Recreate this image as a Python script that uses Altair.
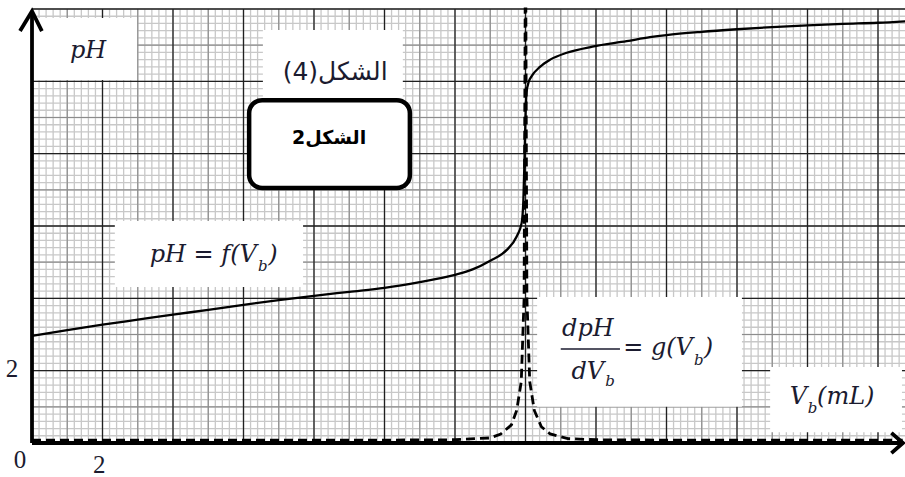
import altair as alt
import numpy as np
import pandas as pd

# Titration curve pH = f(Vb)
vb_ph = [0, 1, 2, 3, 4, 5, 6, 7, 8, 9, 10, 11, 12, 12.5, 13, 13.47, 13.75,
         13.89, 13.94, 13.97, 14.0, 14.03, 14.09, 14.18, 14.41, 14.7, 15.17,
         15.9, 16.87, 17.53, 18, 19, 20, 21, 22, 23, 24, 24.77]
ph = [2.96, 3.12, 3.27, 3.41, 3.55, 3.68, 3.82, 3.95, 4.07, 4.18, 4.29,
      4.45, 4.65, 4.8, 5.04, 5.34, 5.71, 6.08, 6.72, 7.8, 9.0, 9.7, 9.98,
      10.15, 10.4, 10.6, 10.79, 10.96, 11.11, 11.22, 11.28, 11.37, 11.44,
      11.5, 11.55, 11.59, 11.62, 11.66]

# Derivative curve dpH/dVb = g(Vb)
vb_d = [0, 2, 4, 6, 8, 10, 12, 13, 13.3, 13.6, 13.75, 13.88, 13.96, 13.99,
        14.01, 14.04, 14.12, 14.25, 14.45, 14.7, 15.2, 16, 18, 20, 22, 24,
        24.7]
dph = [0.08, 0.08, 0.08, 0.08, 0.08, 0.08, 0.09, 0.14, 0.25, 0.5, 0.9,
       1.7, 4.0, 12.0, 12.0, 4.0, 1.7, 0.9, 0.45, 0.25, 0.12, 0.09, 0.08,
       0.08, 0.08, 0.08, 0.08]

X_MAX = 24.766
Y_MAX = 12.0
xs = alt.Scale(domain=[0, X_MAX], nice=False, zero=False)
ys = alt.Scale(domain=[0, Y_MAX], nice=False, zero=False)


def qx(f):
    return alt.X(f, type="quantitative", scale=xs, axis=None)


def qy(f):
    return alt.Y(f, type="quantitative", scale=ys, axis=None)


# --- graph paper -----------------------------------------------------------
vx = np.round(np.arange(0, X_MAX, 0.2), 2)
hy = np.round(np.arange(0, Y_MAX + 0.01, 0.2), 2)
minor_v = pd.DataFrame({"v": vx})
minor_h = pd.DataFrame({"h": hy})
mid_v = pd.DataFrame({"v": list(range(1, 25, 2))})
mid_h = pd.DataFrame({"h": list(range(1, 12, 2))})
maj_v = pd.DataFrame({"v": list(range(2, 25, 2))})
maj_h = pd.DataFrame({"h": list(range(2, 13, 2))})

MINOR = dict(color="#c8c8c8", strokeWidth=1.3)
MID = dict(color="#8c8c8c", strokeWidth=1.2)
MAJOR = dict(color="#202020", strokeWidth=1.3)
grid = [
    alt.Chart(minor_v).mark_rule(**MINOR).encode(x=qx("v")),
    alt.Chart(minor_h).mark_rule(**MINOR).encode(y=qy("h")),
    alt.Chart(mid_v).mark_rule(**MID).encode(x=qx("v")),
    alt.Chart(mid_h).mark_rule(**MID).encode(y=qy("h")),
    alt.Chart(maj_v).mark_rule(**MAJOR).encode(x=qx("v")),
    alt.Chart(maj_h).mark_rule(**MAJOR).encode(y=qy("h")),
]

# --- white label backgrounds ------------------------------------------------
boxes = pd.DataFrame({
    "x1": [0.03, 6.55, 2.35, 14.33, 20.94],
    "x2": [2.98, 10.52, 7.69, 20.14, 24.68],
    "y1": [11.75, 11.42, 6.14, 4.04, 2.10],
    "y2": [10.04, 9.54, 4.31, 1.00, 0.30],
})
white = alt.Chart(boxes).mark_rect(fill="white").encode(
    x=qx("x1"), x2=alt.X2("x2"), y=qy("y1"), y2=alt.Y2("y2"))

frame = pd.DataFrame({"x1": [6.16], "x2": [10.72], "y1": [9.48], "y2": [7.05]})
rounded = alt.Chart(frame).mark_rect(
    fill="white", stroke="black", strokeWidth=4.5, cornerRadius=13
).encode(x=qx("x1"), x2=alt.X2("x2"), y=qy("y1"), y2=alt.Y2("y2"))

# --- curves -------------------------------------------------------------------
deriv = alt.Chart(pd.DataFrame({"v": vb_d, "g": dph})).mark_line(
    color="black", strokeWidth=2.8, strokeDash=[9, 5], interpolate="linear"
).encode(x=qx("v"), y=qy("g"))

phc = alt.Chart(pd.DataFrame({"v": vb_ph, "p": ph})).mark_line(
    color="black", strokeWidth=2.3, interpolate="monotone"
).encode(x=qx("v"), y=qy("p"))

# --- axes with arrow heads ----------------------------------------------------
axes_df = pd.DataFrame({
    "x": [0, 0, 0, X_MAX - 0.06, -0.34, 0, 0.28, 24.38, X_MAX - 0.06, 24.38],
    "y": [0, 11.94, 0, 0, 11.39, 11.94, 11.39, 0.28, 0, -0.28],
    "part": ["ya", "ya", "xa", "xa", "yh", "yh", "yh", "xh", "xh", "xh"],
    "k": [0, 1, 0, 1, 0, 1, 2, 0, 1, 2],
})
axes = alt.Chart(axes_df).mark_line(
    color="black", strokeWidth=3.8, strokeJoin="miter"
).encode(x=qx("x"), y=qy("y"), detail="part:N", order="k:Q")

# --- text ---------------------------------------------------------------------
INK = "#1b1b2f"
MATH = "DejaVu Serif"


def text_layer(rows, **kw):
    df = pd.DataFrame(rows, columns=["x", "y", "t"])
    return alt.Chart(df).mark_text(**kw).encode(x=qx("x"), y=qy("y"), text="t:N")


ticks = text_layer(
    [(-0.34, -0.47, "0"), (1.91, -0.61, "2"), (-0.57, 2.05, "2")],
    font="Liberation Serif", fontSize=25, color=INK, align="center",
    baseline="middle")

ph_lab = text_layer([(1.59, 10.84, "pH")], font=MATH, fontSize=24,
                    fontStyle="italic", color=INK, align="center", baseline="middle")

fig4 = text_layer([(8.60, 10.26, "(4)الشكل")], font="DejaVu Sans", fontSize=25,
                  color=INK, align="center", baseline="middle")

fig2 = text_layer([(8.43, 8.43, "2الشكل")], font="DejaVu Sans", fontSize=19,
                  fontWeight="bold", color="black", align="center", baseline="middle")

# right-aligned pieces ending just before a subscript
main_r = text_layer(
    [(6.38, 5.20, "pH = f(V"), (16.23, 1.96, "dV"), (18.75, 2.63, "= g(V"),
     (21.99, 1.27, "V")],
    font=MATH, fontSize=24, fontStyle="italic", color=INK, align="right",
    baseline="middle")

main_c = text_layer([(15.77, 3.15, "dpH")], font=MATH, fontSize=24,
                    fontStyle="italic", color=INK, align="center", baseline="middle")

main_l = text_layer(
    [(6.70, 5.20, ")"), (19.06, 2.63, ")"), (22.27, 1.27, "(mL)")],
    font=MATH, fontSize=24, fontStyle="italic", color=INK, align="left",
    baseline="middle")

subs = text_layer(
    [(6.41, 4.89, "b"), (16.26, 1.71, "b"), (18.78, 2.29, "b"), (22.01, 0.97, "b")],
    font=MATH, fontSize=15, fontStyle="italic", color=INK, align="left",
    baseline="middle")

bar = alt.Chart(pd.DataFrame({"x1": [15.0], "x2": [16.68], "y": [2.60]})).mark_rule(
    color=INK, strokeWidth=1.6).encode(x=qx("x1"), x2=alt.X2("x2"), y=qy("y"))

chart = alt.layer(
    *grid, white, rounded, deriv, phc, axes,
    ticks, ph_lab, fig4, fig2, main_r, main_c, main_l, subs, bar
).properties(
    width=873, height=434,
    padding={"left": 32, "top": 9, "right": 0, "bottom": 34},
    autosize="none",
    background="white",
).configure_view(stroke=None)

chart.save("out.html", embed_options={"renderer": "svg", "actions": False})
